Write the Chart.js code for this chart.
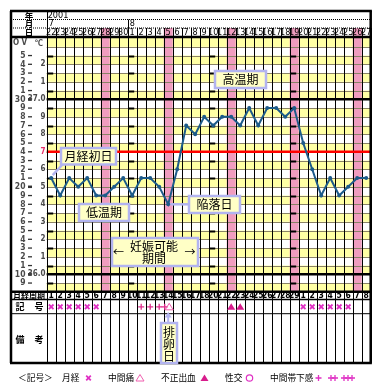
<!DOCTYPE html>
<html><head><meta charset="utf-8">
<script src="https://cdn.jsdelivr.net/npm/chart.js@4"></script>
<style>html,body{margin:0;padding:0;background:#fff}canvas{display:block}</style>
</head><body>
<canvas id="c" width="381" height="389"></canvas>
<script>
// ---------- DATA ----------
const yearLabel = "2001";
const monthLabels = ["7","","","","","","","","","8","","","","","","","","","","","","","","","","","","","","","","","","","",""];
const dayLabels = ["22","23","24","25","26","27","28","29","30","1","2","3","4","5","6","7","8","9","10","11","12","13","14","15","16","17","18","19","20","21","22","23","24","25","26","27"];
const sundayFlags = [0,0,0,0,0,0,1,0,0,0,0,0,0,1,0,0,0,0,0,0,1,0,0,0,0,0,0,1,0,0,0,0,0,0,1,0];
const cycleDays = ["1","2","3","4","5","6","7","8","9","10","11","12","13","14","15","16","17","18","20","21","22","23","24","25","26","27","28","29","1","2","3","4","5","6","7","8"];
// basal body temperature (°C)
const temps = [36.55,36.45,36.55,36.50,36.55,36.45,36.45,36.50,36.55,36.45,36.55,36.55,36.50,36.40,36.60,36.85,36.80,36.90,36.85,36.90,36.90,36.85,36.95,36.85,36.95,36.95,36.90,36.95,36.75,36.60,36.45,36.55,36.45,36.50,36.55,36.55];
// 記号 row
const markSymbols = ["×","×","×","×","×","×","","","","","+","+","+","+△","","","","","","","▲","▲","","","","","","","×","×","×","×","×","×","",""];
// left axis tick labels (OV scale 35..9, ℃ scale 37.2..36.0)
const ovTickValues = [35,34,33,32,31,30,29,28,27,26,25,24,23,22,21,20,19,18,17,16,15,14,13,12,11,10,9];
const ovTickLabels = ["5","4","3","2","1","30","9","8","7","6","5","4","3","2","1","20","9","8","7","6","5","4","3","2","1","10","9"];
const celsiusTickValues = [37.2,37.1,37.0,36.9,36.8,36.7,36.6,36.5,36.4,36.3,36.2,36.1,36.0];
const celsiusTickLabels = ["2","1","37.0","9","8","7","6","5","4","3","2","1","36.0"];
const legendItems = ["月経","中間痛","不正出血","性交","中間帯下感"];

// ---------- STYLE ----------
const C = {yellow:'#ffffa4', pink:'#f09cbf', hline:'#8a8266', lav:'#b2b4f0', boxFill:'#ffffc6',
  line:'#1d5b8a', mark:'#e030c4', plus:'#e0308e', tri:'#d81c8c', axis:'#4a4a4a'};
const JP = "'Noto Sans CJK JP','Noto Sans',sans-serif";
const NUM = "'Liberation Sans Narrow','DejaVu Sans Condensed','Liberation Sans',sans-serif";
const tOf = ov => 36 + (ov - 10) * 0.05;

const G = {frameL:11, frameT:11, rowMonth:19.5, rowDay:28, headBottom:37,
  cycleBottom:299.5, markBottom:313.7, frameB:363, legendY:378};

function geom(chart){
  const {chartArea:ca, scales:{x,y}} = chart;
  const n = dayLabels.length, cw = (ca.right-ca.left)/n;
  return {ca, x, y, n, cw, L:i=>x.getPixelForValue(i)-cw/2, CX:i=>x.getPixelForValue(i), Y:ov=>y.getPixelForValue(tOf(ov))};
}
function hline(ctx,x0,x1,yy,w,col,dash){ctx.save();ctx.beginPath();ctx.strokeStyle=col;ctx.lineWidth=w;if(dash)ctx.setLineDash(dash);ctx.moveTo(x0,yy);ctx.lineTo(x1,yy);ctx.stroke();ctx.restore();}
function vline(ctx,xx,y0,y1,w,col){ctx.save();ctx.beginPath();ctx.strokeStyle=col;ctx.lineWidth=w;ctx.moveTo(xx,y0);ctx.lineTo(xx,y1);ctx.stroke();ctx.restore();}
function text(ctx,s,xx,yy,font,col,align){ctx.save();ctx.font=font;ctx.fillStyle=col||'#000';ctx.textAlign=align||'center';ctx.textBaseline='middle';ctx.fillText(s,xx,yy);ctx.restore();}
function box(ctx,x0,y0,x1,y1){ctx.save();ctx.fillStyle=C.boxFill;ctx.fillRect(x0,y0,x1-x0,y1-y0);ctx.strokeStyle=C.lav;ctx.lineWidth=2.5;ctx.strokeRect(x0,y0,x1-x0,y1-y0);ctx.restore();}

const bgPlugin = {
  id:'bg',
  beforeDraw(chart){
    const ctx = chart.ctx; const g = geom(chart); const {ca,L,Y,n,cw} = g;
    ctx.save();
    ctx.fillStyle='#fff'; ctx.fillRect(0,0,chart.width,chart.height);
    for(let ov=8; ov<37; ov++){
      if(ov%2===0){ ctx.fillStyle=C.yellow; ctx.fillRect(ca.left, Y(ov+1), ca.right-ca.left, Y(ov)-Y(ov+1)); }
    }
    sundayFlags.forEach((s,i)=>{ if(s){ ctx.fillStyle=C.pink; ctx.fillRect(L(i), G.rowDay, cw, ca.bottom-G.rowDay); } });
    for(let ov=9; ov<37; ov++) hline(ctx, ca.left, ca.right, Math.round(Y(ov))+0.5, 1, C.hline);
    for(let i=0;i<=n;i++) vline(ctx, Math.round(L(i))+0.5, G.rowDay, G.frameB, 1, '#000');
    for(let ov=9; ov<37; ov+=2){ [0,9,18,27].forEach(i=>hline(ctx, L(i)+1, L(i)+6.5, Math.round(Y(ov))+0.5, 2, '#000')); }
    hline(ctx, ca.left, ca.right, Y(30), 2.5, '#000');
    hline(ctx, ca.left, ca.right, Y(10), 2.5, '#000');
    hline(ctx, ca.left, ca.right, Y(24), 2.5, '#ff0000');
    ctx.restore();
  }
};

const fgPlugin = {
  id:'fg',
  afterDatasetsDraw(chart){
    const ctx = chart.ctx; const g = geom(chart); const {ca,L,CX,Y,y} = g;
    const R = ca.right;
    // ---- header ----
    hline(ctx, G.frameL, R, G.rowMonth, 1, '#000', [1,1]);
    hline(ctx, G.frameL, R, G.rowDay, 1, '#000', [1,1]);
    monthLabels.forEach((m,i)=>{ if(m){ if(i>0) vline(ctx, Math.round(L(i))+0.5, G.rowMonth, G.rowDay, 1, '#000'); text(ctx, m, L(i)+2, 24, "9px "+NUM, '#000', 'left'); } });
    text(ctx, yearLabel, ca.left+1, 15.5, "9px "+NUM, '#000', 'left');
    dayLabels.forEach((d,i)=> text(ctx, d, CX(i), 32.8, "9px "+NUM, '#000'));
    text(ctx, "年", 29, 15.5, "bold 8.5px "+JP); text(ctx, "月", 29, 24, "bold 8.5px "+JP); text(ctx, "日", 29, 32.8, "bold 8.5px "+JP);
    // ---- left axis labels ----
    text(ctx, "O V", 20, 42.5, "bold 8px "+NUM, C.axis);
    text(ctx, "℃", 39, 42.5, "bold 8px "+JP, C.axis);
    ovTickValues.forEach((v,k)=>{ const yy=Y(v); text(ctx, ovTickLabels[k], 25.5, yy, "bold 8.5px "+NUM, C.axis, 'right'); hline(ctx, 28, 32, yy, (v%10===0)?2.5:1.3, '#333'); });
    celsiusTickValues.forEach((t,k)=>{ const yy=y.getPixelForValue(t); const red = Math.abs(t-36.7)<1e-6; text(ctx, celsiusTickLabels[k], 45.5, yy, "bold 8px "+NUM, red?'#e8306a':C.axis, 'right'); });
    // ---- bottom table ----
    hline(ctx, G.frameL, R, G.cycleBottom, 1.5, '#000');
    hline(ctx, G.frameL, R, G.markBottom, 1, '#000');
    cycleDays.forEach((d,i)=> text(ctx, d, CX(i), 296, "bold 8.5px "+NUM, '#000'));
    text(ctx, "月経周期", 29, 296, "bold 8px "+JP, '#000');
    text(ctx, "記", 20, 307, "bold 9px "+JP); text(ctx, "号", 39, 307, "bold 9px "+JP);
    text(ctx, "備", 20, 340, "bold 9px "+JP); text(ctx, "考", 39, 340, "bold 9px "+JP);
    markSymbols.forEach((m,i)=>{
      const cx = CX(i), cy = 306.8;
      if(m==="×") drawX(ctx,cx,cy);
      if(m==="+") drawPlus(ctx,cx,cy);
      if(m==="▲") drawTri(ctx,cx,cy,true);
      if(m==="+△"){ drawPlus(ctx,cx-3.5,cy); drawTri(ctx,cx+1,cy,false); }
    });
    // ---- frame ----
    hline(ctx, G.frameL-1, R+1.2, G.frameT, 2.5, '#000');
    hline(ctx, G.frameL, R, G.headBottom, 2.5, '#000');
    hline(ctx, G.frameL, R, ca.bottom, 2.5, '#000');
    hline(ctx, G.frameL-1, R+1.2, G.frameB, 2.5, '#000');
    vline(ctx, G.frameL, G.frameT, G.frameB, 2.5, '#000');
    vline(ctx, R, G.frameT, G.frameB, 2.5, '#000');
    vline(ctx, Math.round(ca.left)+0.5, G.frameT, G.frameB, 1, '#000');
    // ---- annotations ----
    const F = "12px "+JP;
    ctx.save(); ctx.strokeStyle=C.lav; ctx.lineWidth=2.5;
    ctx.beginPath(); ctx.moveTo(63,164); ctx.lineTo(CX(0)+1.5, y.getPixelForValue(temps[0])-3); ctx.stroke();
    ctx.beginPath(); ctx.moveTo(CX(13)+2, y.getPixelForValue(temps[13])); ctx.lineTo(189, y.getPixelForValue(temps[13])); ctx.stroke();
    ctx.restore();
    box(ctx,61,148,116,164.5); text(ctx,"月経初日",88.5,156.5,F);
    box(ctx,79,204,129,221); text(ctx,"低温期",104,212.5,F);
    box(ctx,215,71,266,88); text(ctx,"高温期",240.5,79.5,F);
    box(ctx,189,196,240,213); text(ctx,"陥落日",214.5,204.5,F);
    box(ctx,112,238,198,266); text(ctx,"妊娠可能",154,246.5,F); text(ctx,"期間",154,258.5,F);
    text(ctx,"←",118.5,252,"11px "+JP); text(ctx,"→",190,252,"11px "+JP);
    box(ctx,161,323,177,363); text(ctx,"排",169,332.5,F); text(ctx,"卵",169,344.5,F); text(ctx,"日",169,356.5,F);
    ctx.save(); ctx.strokeStyle=C.lav; ctx.fillStyle=C.lav; ctx.lineWidth=2;
    const ax = CX(13);
    ctx.beginPath(); ctx.moveTo(ax,322); ctx.lineTo(ax,316); ctx.stroke();
    ctx.beginPath(); ctx.moveTo(ax,312); ctx.lineTo(ax-3.5,317.5); ctx.lineTo(ax+3.5,317.5); ctx.closePath(); ctx.fill();
    ctx.restore();
    // ---- legend ----
    const LF = "8.7px "+JP, ly = G.legendY;
    text(ctx,"＜記号＞",18,ly,LF,'#000','left');
    text(ctx,legendItems[0],62,ly,LF,'#000','left'); drawX(ctx,88.5,ly);
    text(ctx,legendItems[1],108,ly,LF,'#000','left'); drawTri(ctx,140,ly,false);
    text(ctx,legendItems[2],161,ly,LF,'#000','left'); drawTri(ctx,204.5,ly,true);
    text(ctx,legendItems[3],225,ly,LF,'#000','left');
    ctx.save(); ctx.strokeStyle=C.mark; ctx.lineWidth=1.2; ctx.beginPath(); ctx.arc(249.5,ly,3.2,0,Math.PI*2); ctx.stroke(); ctx.restore();
    text(ctx,legendItems[4],270,ly,LF,'#000','left');
    drawPlus(ctx,318.5,ly,C.mark);
    drawPlus(ctx,331,ly,C.mark); drawPlus(ctx,335,ly,C.mark);
    drawPlus(ctx,344,ly,C.mark); drawPlus(ctx,348,ly,C.mark); drawPlus(ctx,352,ly,C.mark);
  }
};
function drawX(ctx,cx,cy){ctx.save();ctx.strokeStyle=C.mark;ctx.lineWidth=1.8;ctx.beginPath();ctx.moveTo(cx-2.3,cy-2.3);ctx.lineTo(cx+2.3,cy+2.3);ctx.moveTo(cx+2.3,cy-2.3);ctx.lineTo(cx-2.3,cy+2.3);ctx.stroke();ctx.restore();}
function drawPlus(ctx,cx,cy,col){ctx.save();ctx.strokeStyle=col||C.plus;ctx.lineWidth=1.3;ctx.beginPath();ctx.moveTo(cx-3,cy);ctx.lineTo(cx+3,cy);ctx.moveTo(cx,cy-3);ctx.lineTo(cx,cy+3);ctx.stroke();ctx.restore();}
function drawTri(ctx,cx,cy,filled){ctx.save();ctx.beginPath();ctx.moveTo(cx,cy-3.5);ctx.lineTo(cx+4,cy+3);ctx.lineTo(cx-4,cy+3);ctx.closePath();if(filled){ctx.fillStyle=C.tri;ctx.fill();}else{ctx.strokeStyle='#f060b0';ctx.lineWidth=1;ctx.stroke();}ctx.restore();}

new Chart(document.getElementById('c'), {
  type:'line',
  data:{ labels: dayLabels, datasets:[{ data: temps, borderColor:C.line, backgroundColor:C.line, borderWidth:2,
    pointRadius:2, pointBackgroundColor:C.line, pointBorderWidth:0, tension:0, fill:false }]},
  options:{ responsive:false, animation:false, devicePixelRatio:1,
    layout:{ padding:{ left:46.7, right:381-370.7, top:38.05, bottom:389-291.8 } },
    scales:{ x:{ type:'category', offset:true, display:false }, y:{ type:'linear', min:35.9, max:37.35, display:false } },
    plugins:{ legend:{display:false}, tooltip:{enabled:false} }
  },
  plugins:[bgPlugin, fgPlugin]
});
</script>
</body></html>
